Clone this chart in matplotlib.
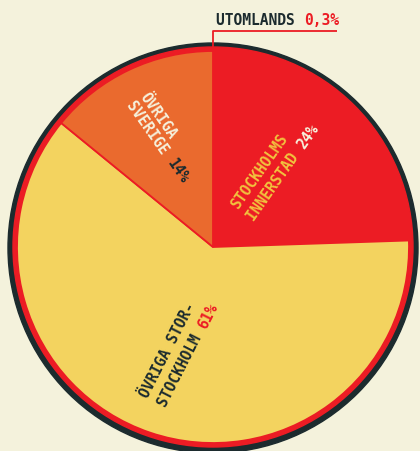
import numpy as np
import matplotlib
matplotlib.use("Agg")
import matplotlib.pyplot as plt
from matplotlib.patches import Circle

# ---- data ----
categories = ["Utomlands", "Stockholms innerstad", "Övriga Stor-Stockholm", "Övriga Sverige"]
shares = [0.3, 24, 61, 14]
pct_labels = ["0,3%", "24%", "61%", "14%"]

BG = "#f4f2dc"
DARK = "#1c2b2e"
RED = "#ec1c24"
ORANGE = "#ea6a2e"
YELLOW = "#f3d35f"
CREAM = "#f6f1dc"
GOLD = "#f2c23e"
slice_colors = [RED, RED, YELLOW, ORANGE]

W, H = 420, 452
fig = plt.figure(figsize=(W / 100, H / 100), dpi=100, facecolor=BG)
ax = fig.add_axes([0, 0, 1, 1])

cx, cy = 213, H - 248

ax.add_patch(Circle((cx, cy - 1), 205, color=DARK, zorder=1))
ax.add_patch(Circle((cx, cy), 200, color=RED, zorder=2))
wedges, _ = ax.pie(shares, colors=slice_colors, startangle=90, counterclock=False,
                   radius=196, center=(cx, cy), frame=True,
                   wedgeprops=dict(edgecolor=RED, linewidth=1.3))
for w in wedges:
    w.set_zorder(3)
ax.set_xlim(0, W)
ax.set_ylim(0, H)
ax.set_aspect("auto")
ax.axis("off")

FONT = "DejaVu Sans Mono"
FS = 10.5
CW = 0.602 * FS  # char width in points


def line(x, y, rot, parts):
    c, s = np.cos(np.radians(rot)), np.sin(np.radians(rot))
    off = 0.0
    for txt, col in parts:
        ax.annotate(txt, xy=(x, H - y), xytext=(off * c, off * s), textcoords="offset points",
                    rotation=rot, rotation_mode="anchor", ha="left", va="baseline",
                    fontsize=FS, fontweight="bold", family=FONT, color=col, zorder=6)
        off += len(txt) * CW


# Utomlands leader + label
ax.plot([cx, cx, 337], [H - 50, H - 32, H - 32], color=RED, lw=1.3, zorder=5,
        solid_capstyle="butt")
line(216, 25, 0, [("UTOMLANDS ", DARK), (pct_labels[0], RED)])

# Stockholms innerstad
line(238, 210, 55, [("STOCKHOLMS", GOLD)])
line(254, 222, 55, [("INNERSTAD ", GOLD), (pct_labels[1], CREAM)])

# Övriga Sverige
line(139, 97, -55, [("ÖVRIGA", CREAM)])
line(126, 105, -55, [("SVERIGE ", CREAM), (pct_labels[3], DARK)])

# Övriga Stor-Stockholm
line(148, 399, 63, [("ÖVRIGA STOR-", DARK)])
line(166, 408, 63, [("STOCKHOLM ", DARK), (pct_labels[2], RED)])

fig.savefig("out.png", dpi=100, facecolor=BG)
